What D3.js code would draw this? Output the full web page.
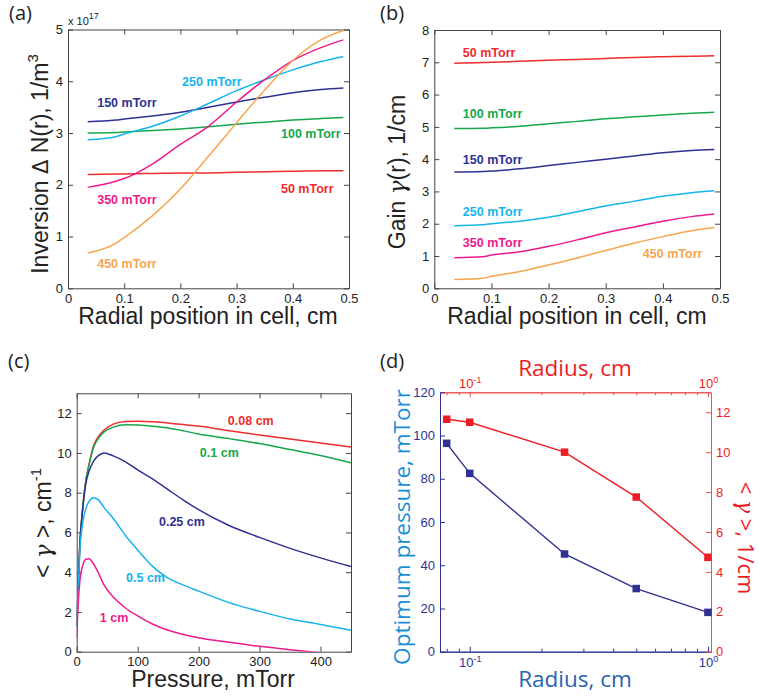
<!DOCTYPE html>
<html>
<head>
<meta charset="utf-8">
<script src="https://cdn.jsdelivr.net/npm/d3@7"></script>
<style>
  body { margin: 0; background: #fff; }
  svg { display: block; }
  text { font-family: "Liberation Sans", Arial, sans-serif; }
  .title2 { font-family: "Open Sans", "Noto Sans", sans-serif; }
</style>
</head>
<body>
<svg id="fig" width="759" height="696"></svg>
<script>
// ---------- data ----------
// (a), (b): radial profiles sampled across the cell
const radialPos = [0.035, 0.085, 0.1, 0.15, 0.2, 0.25, 0.3, 0.35, 0.4, 0.45, 0.49];
const pressureNames = ["50 mTorr", "100 mTorr", "150 mTorr", "250 mTorr", "350 mTorr", "450 mTorr"];

// inversion, units of 1e17 m^-3
const inv50  = [2.20, 2.21, 2.21, 2.22, 2.23, 2.23, 2.24, 2.25, 2.26, 2.27, 2.27];
const inv100 = [3.00, 3.01, 3.02, 3.05, 3.08, 3.12, 3.17, 3.21, 3.25, 3.28, 3.30];
const inv150 = [3.22, 3.25, 3.27, 3.33, 3.40, 3.50, 3.60, 3.69, 3.78, 3.84, 3.87];
const inv250 = [2.87, 2.93, 2.98, 3.13, 3.33, 3.57, 3.82, 4.03, 4.22, 4.38, 4.48];
const inv350 = [1.95, 2.07, 2.12, 2.40, 2.78, 3.13, 3.60, 4.03, 4.40, 4.65, 4.80];
const inv450 = [0.68, 0.87, 0.98, 1.40, 1.92, 2.55, 3.20, 3.83, 4.40, 4.80, 4.98];

// gain, 1/cm
const gain50  = [6.97, 6.99, 7.00, 7.03, 7.06, 7.09, 7.12, 7.15, 7.17, 7.19, 7.20];
const gain100 = [4.95, 4.96, 4.97, 5.02, 5.10, 5.17, 5.25, 5.31, 5.37, 5.42, 5.45];
const gain150 = [3.60, 3.62, 3.63, 3.70, 3.80, 3.90, 4.00, 4.10, 4.20, 4.27, 4.30];
const gain250 = [1.94, 1.97, 2.00, 2.08, 2.20, 2.37, 2.55, 2.70, 2.85, 2.96, 3.02];
const gain350 = [0.95, 0.98, 1.03, 1.13, 1.30, 1.50, 1.72, 1.90, 2.08, 2.22, 2.30];
const gain450 = [0.27, 0.31, 0.37, 0.52, 0.72, 0.94, 1.17, 1.40, 1.60, 1.78, 1.88];

// (c): averaged gain vs pressure for several cell radii
const pressure = [0, 2, 5, 10, 15, 20, 28, 35, 45, 60, 80, 100, 125, 150, 175, 200, 250, 300, 350, 400, 450];
const radiusNames = ["0.08 cm", "0.1 cm", "0.25 cm", "0.5 cm", "1 cm"];
const avg008 = [1.3, 3.0, 5.3, 7.3, 8.6, 9.4, 10.4, 10.8, 11.15, 11.45, 11.58, 11.60, 11.57, 11.50, 11.43, 11.35, 11.12, 10.90, 10.70, 10.50, 10.30];
const avg010 = [1.3, 3.0, 5.3, 7.3, 8.6, 9.35, 10.3, 10.7, 11.05, 11.30, 11.42, 11.40, 11.34, 11.25, 11.11, 10.95, 10.72, 10.47, 10.17, 9.87, 9.50];
const avg025 = [1.3, 3.0, 5.3, 7.2, 8.45, 9.05, 9.6, 9.85, 10.00, 9.85, 9.55, 9.15, 8.68, 8.15, 7.63, 7.15, 6.35, 5.75, 5.20, 4.72, 4.28];
const avg050 = [1.2, 2.8, 5.0, 6.5, 7.2, 7.55, 7.75, 7.65, 7.25, 6.70, 5.85, 5.12, 4.28, 3.70, 3.35, 3.05, 2.47, 2.03, 1.65, 1.37, 1.08];
const avg100 = [0.7, 2.2, 3.5, 4.35, 4.65, 4.68, 4.40, 4.00, 3.35, 2.75, 2.20, 1.80, 1.38, 1.08, 0.87, 0.70, 0.47, 0.27, 0.10, -0.05, null];

// (d): optimum pressure and peak averaged gain vs radius
const radiusCm = [0.08, 0.1, 0.25, 0.5, 1.0];
const optPressure = [96.4, 82.5, 45.2, 29.2, 18.2];
const peakGain = [11.65, 11.5, 10.0, 7.75, 4.73];

// tick values
const radialTicks = [0, 0.1, 0.2, 0.3, 0.4, 0.5];
const invTicks = [0, 1, 2, 3, 4, 5];
const gainTicks = [0, 1, 2, 3, 4, 5, 6, 7, 8];
const pressureTicks = [0, 100, 200, 300, 400];
const avgTicks = [0, 2, 4, 6, 8, 10, 12];
const optTicks = [0, 20, 40, 60, 80, 100, 120];
const peakTicks = [0, 2, 4, 6, 8, 10, 12];
const radiusMajor = [0.1, 1];
const radiusMinor = [0.08, 0.09, 0.2, 0.3, 0.4, 0.5, 0.6, 0.7, 0.8, 0.9];

// label anchor points in data units
const labelPosA = [[0.379, 1.92], [0.379, 2.98], [0.052, 3.59], [0.203, 4.00], [0.052, 1.72], [0.052, 0.48]];
const labelPosB = [[0.05, 7.30], [0.05, 5.42], [0.05, 3.97], [0.05, 2.39], [0.05, 1.42], [0.365, 1.08]];
const labelPosC = [[248, 11.61], [202, 10.02], [135, 6.54], [81, 3.71], [38, 1.70]];

// ---------- drawing ----------
const pressureColors = ["#ef2b2d", "#14a84b", "#2e3192", "#16b4ec", "#ec1a8c", "#f7a54e"];
const radiusColors = ["#ef2b2d", "#14a84b", "#2e3192", "#16b4ec", "#ec1a8c"];
const svg = d3.select("#fig");
const axisColor = "#444";
const tickText = "#222";

function styleAxis(sel, color, textColor) {
  sel.selectAll(".domain").attr("stroke", color).attr("stroke-width", 1);
  sel.selectAll(".tick line").attr("stroke", color);
  sel.selectAll(".tick text").attr("fill", textColor).attr("font-size", 13)
     .attr("font-family", "'Liberation Sans', Arial, sans-serif");
}

function boxAxes(x, y, xTicks, yTicks, xFmt, yFmt) {
  const [x0, x1] = x.range();
  const [y0, y1] = y.range();
  const b = svg.append("g").attr("transform", `translate(0,${y0})`)
    .call(d3.axisBottom(x).tickValues(xTicks).tickFormat(xFmt).tickSize(-5).tickSizeOuter(0).tickPadding(5));
  const t = svg.append("g").attr("transform", `translate(0,${y1})`)
    .call(d3.axisTop(x).tickValues(xTicks).tickFormat("").tickSize(-5).tickSizeOuter(0));
  const l = svg.append("g").attr("transform", `translate(${x0},0)`)
    .call(d3.axisLeft(y).tickValues(yTicks).tickFormat(yFmt).tickSize(-5).tickSizeOuter(0).tickPadding(5));
  const r = svg.append("g").attr("transform", `translate(${x1},0)`)
    .call(d3.axisRight(y).tickValues(yTicks).tickFormat("").tickSize(-5).tickSizeOuter(0));
  [b, t, l, r].forEach(s => styleAxis(s, axisColor, tickText));
}

function seriesLines(x, y, xs, rows, colors, clipId) {
  const line = d3.line()
    .defined(d => d[1] !== null)
    .x(d => x(d[0])).y(d => y(d[1]))
    .curve(d3.curveMonotoneX);
  const g = svg.append("g");
  if (clipId) g.attr("clip-path", `url(#${clipId})`);
  rows.forEach((vals, i) => {
    g.append("path")
      .datum(xs.map((v, k) => [v, vals[k]]))
      .attr("d", line)
      .attr("fill", "none")
      .attr("stroke", colors[i])
      .attr("stroke-width", 1.5);
  });
}

function seriesLabels(x, y, names, pos, colors) {
  names.forEach((n, i) => {
    svg.append("text")
      .attr("x", x(pos[i][0])).attr("y", y(pos[i][1]))
      .attr("dy", "0.35em")
      .attr("font-size", 12.5).attr("font-weight", "bold")
      .attr("fill", colors[i]).text(n);
  });
}

function panelTag(x, y, s) {
  svg.append("text").attr("class", "title2").attr("x", x).attr("y", y)
    .attr("font-size", 20).attr("fill", "#222").text(s);
}

const fmt1 = d => d === 0 ? "0" : d3.format(".1f")(d);
const fmtInt = d => String(d);

// ---- (a) inversion ----
{
  const x = d3.scaleLinear().domain([0, 0.5]).range([68, 349]);
  const y = d3.scaleLinear().domain([0, 5]).range([288.3, 29.5]);
  boxAxes(x, y, radialTicks, invTicks, fmt1, fmtInt);
  seriesLines(x, y, radialPos, [inv50, inv100, inv150, inv250, inv350, inv450], pressureColors);
  seriesLabels(x, y, pressureNames, labelPosA, pressureColors);
  const e = svg.append("text").attr("x", 68).attr("y", 25).attr("font-size", 11).attr("fill", tickText);
  e.append("tspan").text("x 10");
  e.append("tspan").attr("dy", -6).attr("font-size", 9).text("17");
  const yt = svg.append("text").attr("transform", "translate(48,164) rotate(-90)")
    .attr("text-anchor", "middle").attr("font-size", 23).attr("fill", "#222");
  yt.append("tspan").text("Inversion ");
  yt.append("tspan").attr("font-family", "'DejaVu Sans', sans-serif").attr("font-size", 21).text("Δ");
  yt.append("tspan").text(" N(r), 1/m");
  yt.append("tspan").attr("dy", -10).attr("font-size", 15).text("3");
  svg.append("text").attr("x", 208).attr("y", 324).attr("text-anchor", "middle")
    .attr("font-size", 23).attr("fill", "#222").text("Radial position in cell, cm");
  panelTag(9, 20, "(a)");
}

// ---- (b) gain ----
{
  const x = d3.scaleLinear().domain([0, 0.5]).range([434.3, 720]);
  const y = d3.scaleLinear().domain([0, 8]).range([288.3, 30]);
  boxAxes(x, y, radialTicks, gainTicks, fmt1, fmtInt);
  seriesLines(x, y, radialPos, [gain50, gain100, gain150, gain250, gain350, gain450], pressureColors);
  seriesLabels(x, y, pressureNames, labelPosB, pressureColors);
  const yt = svg.append("text").attr("transform", "translate(405,172) rotate(-90)")
    .attr("text-anchor", "middle").attr("font-size", 23).attr("fill", "#222");
  yt.append("tspan").text("Gain ");
  yt.append("tspan").attr("font-family", "'DejaVu Serif', serif").attr("font-style", "italic").text("γ");
  yt.append("tspan").text("(r),  1/cm");
  svg.append("text").attr("x", 577).attr("y", 324).attr("text-anchor", "middle")
    .attr("font-size", 23).attr("fill", "#222").text("Radial position in cell, cm");
  panelTag(380, 20, "(b)");
}

// ---- (c) averaged gain vs pressure ----
{
  const x = d3.scaleLinear().domain([0, 450]).range([76.7, 351]);
  const y = d3.scaleLinear().domain([0, 13]).range([651.7, 393.3]);
  svg.append("clipPath").attr("id", "clipC").append("rect")
    .attr("x", 76.7).attr("y", 393.3).attr("width", 351 - 76.7).attr("height", 651.7 - 393.3);
  boxAxes(x, y, pressureTicks, avgTicks, fmtInt, fmtInt);
  seriesLines(x, y, pressure, [avg008, avg010, avg025, avg050, avg100], radiusColors, "clipC");
  seriesLabels(x, y, radiusNames, labelPosC, radiusColors);
  const yt = svg.append("text").attr("transform", "translate(51,523) rotate(-90)")
    .attr("text-anchor", "middle").attr("font-size", 23).attr("fill", "#222");
  yt.append("tspan").text("< ");
  yt.append("tspan").attr("font-family", "'DejaVu Serif', serif").attr("font-style", "italic").text("γ");
  yt.append("tspan").text(" >, cm");
  yt.append("tspan").attr("dy", -10).attr("font-size", 15).text("-1");
  svg.append("text").attr("x", 213).attr("y", 687).attr("text-anchor", "middle")
    .attr("font-size", 23).attr("fill", "#222").text("Pressure, mTorr");
  panelTag(8, 368, "(c)");
}

// ---- (d) optimum pressure and peak gain vs radius ----
{
  const navy = "#2e3192", red = "#ed1c24", redAxis = "#f05050";
  const x = d3.scaleLog().domain([0.075, 1.03]).range([440, 711]);
  const yL = d3.scaleLinear().domain([0, 120]).range([651.7, 392.3]);
  const yR = d3.scaleLinear().domain([0, 13]).range([651.7, 392.3]);
  const [y0, y1] = yL.range();

  const supFmt = (sel) => sel.selectAll(".tick text").each(function (d) {
    const t = d3.select(this);
    t.text("");
    t.append("tspan").text("10");
    t.append("tspan").attr("dy", "-0.55em").attr("font-size", 9).text(Math.round(Math.log10(d)));
  });

  const bMaj = svg.append("g").attr("transform", `translate(0,${y0})`)
    .call(d3.axisBottom(x).tickValues(radiusMajor).tickSize(-5).tickSizeOuter(0).tickPadding(6));
  const bMin = svg.append("g").attr("transform", `translate(0,${y0})`)
    .call(d3.axisBottom(x).tickValues(radiusMinor).tickFormat("").tickSize(-3).tickSizeOuter(0));
  const tMaj = svg.append("g").attr("transform", `translate(0,${y1})`)
    .call(d3.axisTop(x).tickValues(radiusMajor).tickSize(-5).tickSizeOuter(0).tickPadding(4));
  const tMin = svg.append("g").attr("transform", `translate(0,${y1})`)
    .call(d3.axisTop(x).tickValues(radiusMinor).tickFormat("").tickSize(-3).tickSizeOuter(0));
  const lAx = svg.append("g").attr("transform", `translate(${x.range()[0]},0)`)
    .call(d3.axisLeft(yL).tickValues(optTicks).tickFormat(fmtInt).tickSize(-5).tickSizeOuter(0).tickPadding(5));
  const rAx = svg.append("g").attr("transform", `translate(${x.range()[1]},0)`)
    .call(d3.axisRight(yR).tickValues(peakTicks).tickFormat(fmtInt).tickSize(-5).tickSizeOuter(0).tickPadding(5));
  [bMaj, bMin, lAx].forEach(s => styleAxis(s, navy, navy));
  [tMaj, tMin, rAx].forEach(s => styleAxis(s, redAxis, red));
  supFmt(bMaj); supFmt(tMaj);

  const lineL = d3.line().x(d => x(d[0])).y(d => yL(d[1]));
  const lineR = d3.line().x(d => x(d[0])).y(d => yR(d[1]));
  const ptsL = radiusCm.map((r, i) => [r, optPressure[i]]);
  const ptsR = radiusCm.map((r, i) => [r, peakGain[i]]);
  svg.append("path").datum(ptsR).attr("d", lineR).attr("fill", "none").attr("stroke", red).attr("stroke-width", 1.4);
  svg.append("path").datum(ptsL).attr("d", lineL).attr("fill", "none").attr("stroke", navy).attr("stroke-width", 1.4);
  const sq = 7.5;
  svg.append("g").selectAll("rect").data(ptsR).join("rect")
    .attr("x", d => x(d[0]) - sq / 2).attr("y", d => yR(d[1]) - sq / 2)
    .attr("width", sq).attr("height", sq).attr("fill", red);
  svg.append("g").selectAll("rect").data(ptsL).join("rect")
    .attr("x", d => x(d[0]) - sq / 2).attr("y", d => yL(d[1]) - sq / 2)
    .attr("width", sq).attr("height", sq).attr("fill", navy);

  svg.append("text").attr("class", "title2").attr("x", 575).attr("y", 376).attr("text-anchor", "middle")
    .attr("font-size", 22.5).attr("fill", red).text("Radius, cm");
  svg.append("text").attr("class", "title2").attr("x", 575).attr("y", 687).attr("text-anchor", "middle")
    .attr("font-size", 22.5).attr("fill", "#2a63b0").text("Radius, cm");
  svg.append("text").attr("class", "title2").attr("transform", "translate(410,527) rotate(-90)")
    .attr("text-anchor", "middle").attr("font-size", 22.5).attr("fill", "#1b8ed3").text("Optimum pressure, mTorr");
  const rt = svg.append("text").attr("class", "title2").attr("transform", "translate(738,538) rotate(90)")
    .attr("text-anchor", "middle").attr("font-size", 22).attr("fill", red);
  rt.append("tspan").text("< ");
  rt.append("tspan").attr("font-family", "'DejaVu Serif', serif").attr("font-style", "italic").text("γ");
  rt.append("tspan").text(" >, 1/cm");
  panelTag(380, 368, "(d)");
}
</script>
</body>
</html>
